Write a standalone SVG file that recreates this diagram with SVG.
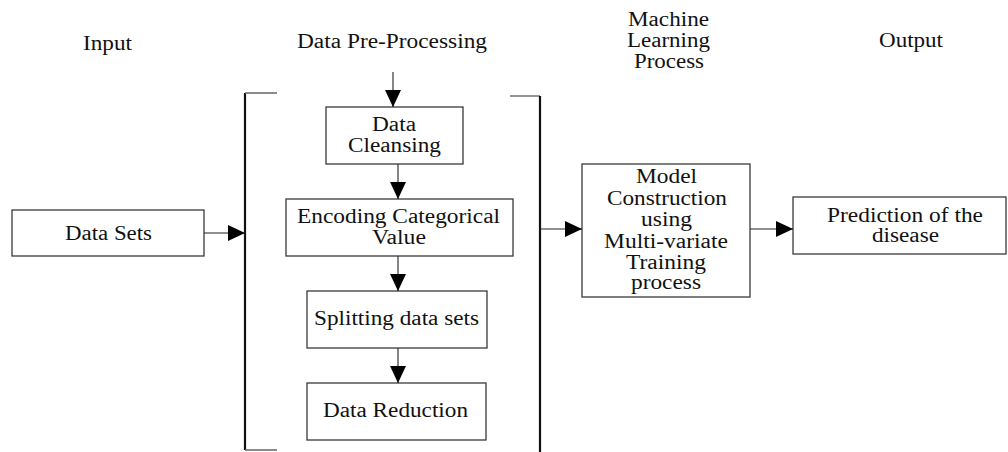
<svg xmlns="http://www.w3.org/2000/svg" width="1008" height="452" viewBox="0 0 1008 452">
  <style>
    text { font-family: "Liberation Serif", "Times New Roman", serif; font-size: 20px; fill: #111; text-anchor: middle; }
    .box { fill: #fff; stroke: #3a3a3a; stroke-width: 1.3; }
    .bracket { fill: none; stroke: #111; stroke-width: 2.2; }
    .tick { fill: none; stroke: #666; stroke-width: 1.4; }
    .conn { stroke: #222; stroke-width: 1.1; fill: none; marker-end: url(#head); }
  </style>
  <defs>
    <marker id="head" markerUnits="userSpaceOnUse" markerWidth="17" markerHeight="16" refX="17" refY="8" orient="auto">
      <path d="M0,0 L17,8 L0,16 z" fill="#000"/>
    </marker>
  </defs>

  <rect width="1008" height="452" fill="#fff"/>

  <!-- column headings -->
  <g id="headings">
    <text x="107.5" y="50" textLength="49" lengthAdjust="spacingAndGlyphs">Input</text>
    <text x="392" y="48" textLength="190" lengthAdjust="spacingAndGlyphs">Data Pre-Processing</text>
    <text x="668.5" y="26" textLength="81" lengthAdjust="spacingAndGlyphs">Machine</text>
    <text x="668.5" y="47" textLength="83" lengthAdjust="spacingAndGlyphs">Learning</text>
    <text x="669" y="68" textLength="70" lengthAdjust="spacingAndGlyphs">Process</text>
    <text x="911" y="47" textLength="64" lengthAdjust="spacingAndGlyphs">Output</text>
  </g>

  <!-- pre-processing bracket -->
  <g id="bracket">
    <path class="bracket" d="M245,93 V450"/>
    <path class="tick" d="M245,93 H277 M245,450 H277"/>
    <path class="tick" d="M510,96 H540"/>
    <path class="bracket" d="M540,96 V452"/>
  </g>

  <g id="data-sets">
    <rect class="box" x="12" y="210" width="192" height="46"/>
    <text x="108.5" y="240" textLength="87" lengthAdjust="spacingAndGlyphs">Data Sets</text>
  </g>

  <g id="data-cleansing">
    <rect class="box" x="326" y="107" width="137" height="57"/>
    <text x="394" y="131" textLength="44" lengthAdjust="spacingAndGlyphs">Data</text>
    <text x="394.5" y="152" textLength="93" lengthAdjust="spacingAndGlyphs">Cleansing</text>
  </g>

  <g id="encoding">
    <rect class="box" x="286" y="199" width="227" height="57"/>
    <text x="398.5" y="223" textLength="203" lengthAdjust="spacingAndGlyphs">Encoding Categorical</text>
    <text x="399" y="244" textLength="54" lengthAdjust="spacingAndGlyphs">Value</text>
  </g>

  <g id="splitting">
    <rect class="box" x="307" y="291" width="180" height="57"/>
    <text x="396.5" y="325" textLength="165" lengthAdjust="spacingAndGlyphs">Splitting data sets</text>
  </g>

  <g id="data-reduction">
    <rect class="box" x="307" y="383" width="179" height="57"/>
    <text x="395.5" y="417" textLength="145" lengthAdjust="spacingAndGlyphs">Data Reduction</text>
  </g>

  <g id="model-construction">
    <rect class="box" x="582" y="164" width="168" height="133"/>
    <text x="666.5" y="183" textLength="61" lengthAdjust="spacingAndGlyphs">Model</text>
    <text x="667" y="205" textLength="120" lengthAdjust="spacingAndGlyphs">Construction</text>
    <text x="666.5" y="226" textLength="51" lengthAdjust="spacingAndGlyphs">using</text>
    <text x="666" y="248" textLength="124" lengthAdjust="spacingAndGlyphs">Multi-variate</text>
    <text x="666" y="269" textLength="80" lengthAdjust="spacingAndGlyphs">Training</text>
    <text x="666" y="289" textLength="70" lengthAdjust="spacingAndGlyphs">process</text>
  </g>

  <g id="prediction">
    <rect class="box" x="793" y="197" width="213" height="57"/>
    <text x="905" y="222" textLength="156" lengthAdjust="spacingAndGlyphs">Prediction of the</text>
    <text x="905.5" y="242" textLength="67" lengthAdjust="spacingAndGlyphs">disease</text>
  </g>

  <!-- connectors -->
  <g id="connectors">
    <line class="conn" x1="393" y1="72" x2="393" y2="107"/>
    <line class="conn" x1="398" y1="164" x2="398" y2="199"/>
    <line class="conn" x1="398" y1="256" x2="398" y2="291"/>
    <line class="conn" x1="398" y1="348" x2="398" y2="383"/>
    <line class="conn" x1="204" y1="233" x2="245" y2="233"/>
    <line class="conn" x1="540" y1="229" x2="582" y2="229"/>
    <line class="conn" x1="750" y1="229" x2="793" y2="229"/>
  </g>
</svg>
